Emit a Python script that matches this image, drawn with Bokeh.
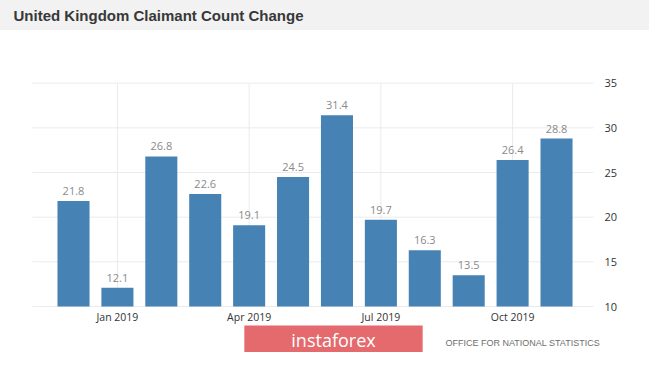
from bokeh.plotting import figure
from bokeh.models import Label, FixedTicker, ColumnDataSource, Range1d
from bokeh.core.properties import value
from bokeh.embed import file_html
from bokeh.resources import INLINE

months = ["Dec 2018", "Jan 2019", "Feb 2019", "Mar 2019", "Apr 2019", "May 2019",
          "Jun 2019", "Jul 2019", "Aug 2019", "Sep 2019", "Oct 2019", "Nov 2019"]
claimant_change = [21.8, 12.1, 26.8, 22.6, 19.1, 24.5, 31.4, 19.7, 16.3, 13.5, 26.4, 28.8]
tick_positions = [1, 4, 7, 10]
tick_labels = ["Jan 2019", "Apr 2019", "Jul 2019", "Oct 2019"]
y_ticks = [10, 15, 20, 25, 30, 35]
title_text = "United Kingdom Claimant Count Change"
source_text = "OFFICE FOR NATIONAL STATISTICS"
logo_text = "instaforex"

# plot-area extents (layout), in data units
X_START, X_END = -1.6625, 12.275
GRID_LEFT, GRID_RIGHT = -0.934, 11.843
Y_START, Y_END = 4.85, 44.26

xs = list(range(len(months)))
src = ColumnDataSource(dict(x=xs, top=claimant_change,
                            label=[f"{v:.1f}" for v in claimant_change]))
hgrid = ColumnDataSource(dict(y=y_ticks))
vgrid = ColumnDataSource(dict(x=tick_positions, label=tick_labels))

p = figure(width=649, height=352, output_backend="svg", toolbar_location=None,
           x_range=Range1d(X_START, X_END), y_range=Range1d(Y_START, Y_END),
           min_border_left=0, min_border_right=37, min_border_top=0,
           min_border_bottom=0, x_axis_location=None, y_axis_location="right")
p.styles = {"background": "linear-gradient(#f2f2f2 0px, #f2f2f2 30px, #ffffff 30px)"}
p.border_fill_alpha = 0
p.background_fill_alpha = 0
p.outline_line_color = None
p.xgrid.visible = False
p.ygrid.visible = False

# grid lines
p.segment(x0=GRID_LEFT, x1=GRID_RIGHT, y0="y", y1="y", source=hgrid,
          line_color="#ebebeb", line_width=1)
p.segment(x0="x", x1="x", y0=y_ticks[0], y1=y_ticks[-1], source=vgrid,
          line_color="#ebebeb", line_width=1)

# bars and value labels
p.vbar(x="x", top="top", bottom=y_ticks[0], width=0.73, source=src,
       fill_color="#4682b4", line_color=None)
p.text(x="x", y="top", text="label", source=src, text_align="center",
       text_baseline="bottom", y_offset=-6, text_font=value("Open Sans"),
       text_font_size="11px", text_color="#8a8a8a")

# x tick labels (month axis)
p.text(x="x", y=y_ticks[0], text="label", source=vgrid, text_align="center",
       text_baseline="middle", y_offset=10, text_font=value("Open Sans"),
       text_font_size="10.5px", text_color="#333333")

# right value axis
p.yaxis.ticker = FixedTicker(ticks=y_ticks)
ax = p.yaxis[0]
ax.axis_line_color = None
ax.major_tick_line_color = None
ax.minor_tick_line_color = None
ax.major_label_text_font = "Open Sans"
ax.major_label_text_font_size = "11px"
ax.major_label_text_color = "#333333"
ax.major_label_standoff = -14

# title, source and watermark (screen units from the plot area's bottom-left)
p.add_layout(Label(x=13, y=337, x_units="screen", y_units="screen", text=title_text,
                   text_font="Liberation Sans", text_font_style="bold",
                   text_font_size="15px", text_color="#383838", text_baseline="middle"))
p.add_layout(Label(x=445, y=10, x_units="screen", y_units="screen", text=source_text,
                   text_font="Liberation Sans", text_font_size="9px",
                   text_color="#6e6e6e", text_baseline="middle"))
p.add_layout(Label(x=333, y=13, x_units="screen", y_units="screen", text=logo_text,
                   text_font="Open Sans", text_font_size="18px", text_color="#ffffff",
                   text_align="center", text_baseline="middle",
                   background_fill_color="#e46a6e",
                   padding=dict(left=47, right=47, top=2, bottom=2)))

open("out.html", "w").write(file_html(p, INLINE))
